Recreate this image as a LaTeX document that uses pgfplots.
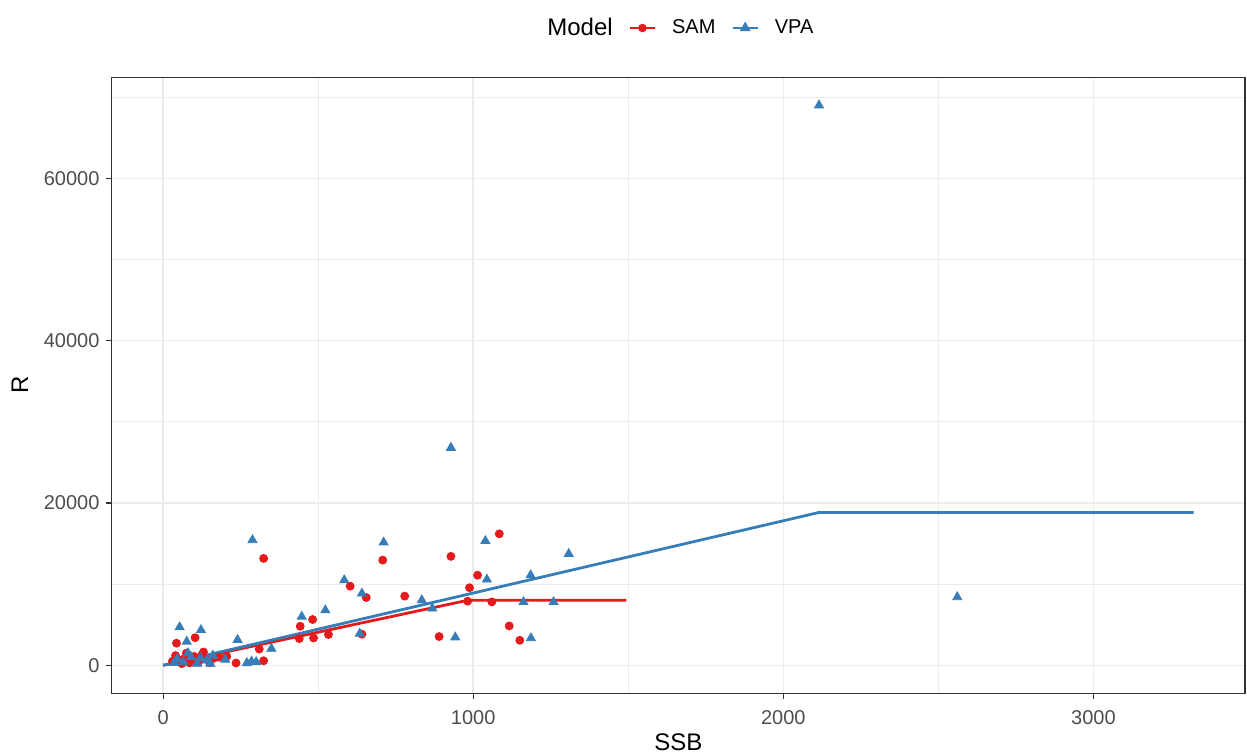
\documentclass[border=0pt]{standalone}
\usepackage{pgfplots}
\pgfplotsset{compat=1.18}
\usepackage{fontspec}
\setmainfont{Liberation Sans}
\definecolor{samred}{HTML}{E41A1C}
\definecolor{vpablue}{HTML}{377EB8}
\definecolor{grey92}{HTML}{EBEBEB}
\definecolor{grey20}{HTML}{333333}
\definecolor{grey30}{HTML}{4D4D4D}
\begin{document}
\begin{tikzpicture}
\path[use as bounding box] (-55.85pt,-30.85pt) rectangle (567.65pt,346.65pt);
\begin{axis}[
  at={(0pt,0pt)}, anchor=south west,
  scale only axis, width=566.65pt, height=308pt,
  xmin=-166, xmax=3489, ymin=-3450, ymax=72450,
  xtick={0,1000,2000,3000}, ytick={0,20000,40000,60000},
  minor xtick={500,1500,2500}, minor ytick={10000,30000,50000,70000},
  xtick pos=bottom, ytick pos=left,
  scaled ticks=false,
  /pgf/number format/.cd, 1000 sep={}, assume math mode=true, /pgfplots/.cd,
  grid=both,
  major grid style={color=grey92, line width=0.8pt},
  minor grid style={color=grey92, line width=0.4pt},
  axis line style={grey20, line width=0.7pt},
  tick align=outside, major tick length=2.6pt, minor tick length=0pt,
  tick style={grey20, line width=0.6pt},
  ticklabel style={font=\fontsize{10}{12}\selectfont, text=grey30},
  xticklabel style={yshift=-2.5pt},
  xlabel={SSB}, ylabel={R},
  label style={font=\fontsize{12}{14}\selectfont},
  xlabel style={at={(axis description cs:0.5,0)}, anchor=center, yshift=-24.4pt},
  ylabel style={at={(axis description cs:-0.081,0.5)}, anchor=center},
  legend columns=-1,
  legend style={at={(axis description cs:0.4965,1.08)}, anchor=center, draw=none, fill=none,
    font=\fontsize{10}{12}\selectfont,
    /tikz/every even column/.append style={column sep=6pt},
    /tikz/every odd column/.append style={column sep=6pt}},
  legend image code/.code={\draw[mark repeat=2,mark phase=2,#1] plot coordinates {(0pt,0pt) (6.25pt,0pt) (12.5pt,0pt)};},
]
\addlegendimage{empty legend}
\addlegendentry{\fontsize{12}{14}\selectfont Model\hspace{2pt}}
\addlegendimage{samred, line width=1.2pt, mark=*, mark size=1.5pt}
\addlegendentry{SAM}
\addlegendimage{vpablue, line width=1.2pt, mark=triangle*, mark size=2pt}
\addlegendentry{VPA}

% SAM points
\addplot[forget plot, only marks, mark=*, mark size=2pt, samred] coordinates {
(324,13170) (708,12960) (603,9750) (655,8350) (779,8520) (482,5640) (442,4810)
(439,3290) (485,3370) (533,3790) (641,3830) (928,13420) (890,3540) (324,560)
(310,2000) (1084,16200) (1014,11100) (988,9560) (982,7900) (1060,7810)
(1116,4850) (1150,3080) (103,3400) (43,2720) (130,1640) (205,1100) (235,280)
(40,1200) (55,600) (70,900) (85,300) (100,1100) (115,500) (135,800) (150,300)
(60,200) (95,700) (125,1300) (165,900) (180,1000) (75,1500) (30,500)
};
% VPA points
\addplot[forget plot, only marks, mark=triangle*, mark size=2.6pt, vpablue] coordinates {
(2115,69000) (928,26800) (288,15430) (711,15150) (1039,15320) (1308,13730)
(584,10490) (641,8850) (1044,10575) (1185,11100) (834,8020) (868,7000)
(1162,7800) (1259,7800) (523,6790) (447,6000) (634,3910) (942,3450) (1186,3350)
(2561,8400) (285,470) (349,2050) (53,4700) (122,4350) (76,2920) (240,3130)
(152,200) (270,280) (300,410)
(45,800) (65,400) (90,1000) (110,200) (140,600) (160,1200) (200,700) (35,300)
(80,1500) (120,900)
};
% SAM line
\addplot[forget plot, samred, line width=1.4pt] coordinates {(0,0) (984,8025) (1494,8025)};
% VPA line
\addplot[forget plot, vpablue, line width=1.4pt] coordinates {(0,0) (2115,18830) (3323,18830)};
\end{axis}
\end{tikzpicture}
\end{document}
